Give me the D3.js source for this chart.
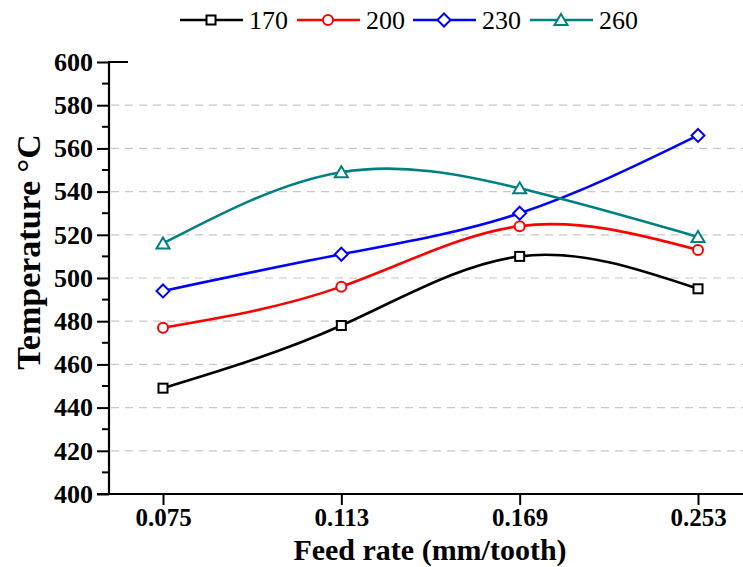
<!DOCTYPE html>
<html><head><meta charset="utf-8">
<script src="https://cdn.jsdelivr.net/npm/d3@7"></script>
<style>body{margin:0;background:#fff}svg{display:block}</style>
</head><body>
<svg id="c" width="743" height="567"></svg>
<script>
const categories = ["0.075", "0.113", "0.169", "0.253"];
const s170 = [449, 478, 510, 495];
const s200 = [477, 496, 524, 513];
const s230 = [494, 511, 530, 566];
const s260 = [516, 549, 541.5, 519];
const seriesNames = ["170", "200", "230", "260"];
const seriesColors = ["#000000", "#ff0000", "#0000ff", "#008080"];
const seriesMarkers = ["square", "circle", "diamond", "triangle"];
const yTicks = [400, 420, 440, 460, 480, 500, 520, 540, 560, 580, 600];
const yMinor = [410, 430, 450, 470, 490, 510, 530, 550, 570, 590];
const gridVals = [420, 440, 460, 480, 500, 520, 540, 560, 580];
const allSeries = [s170, s200, s230, s260];

const svg = d3.select("#c");
const x = d3.scalePoint().domain(categories).range([163, 698]);
const y = d3.scaleLinear().domain([400, 600]).range([494, 62]);
const axisX0 = 109, axisX1 = 743;
const serif = "'Liberation Serif', 'Times New Roman', serif";

// grid
svg.append("g").selectAll("line").data(gridVals).join("line")
  .attr("x1", axisX0 + 2).attr("x2", axisX1)
  .attr("y1", d => y(d)).attr("y2", d => y(d))
  .attr("stroke", "#c8c8c8").attr("stroke-width", 1.2).attr("stroke-dasharray", "8,6");

// y axis
const yAxis = d3.axisLeft(y).tickValues(yTicks).tickSize(12).tickPadding(4).tickFormat(d3.format("d"));
const gy = svg.append("g").attr("transform", `translate(${axisX0},0)`).call(yAxis);
gy.select(".domain").remove();
gy.selectAll(".tick line").attr("stroke", "#000").attr("stroke-width", 2);
gy.selectAll(".tick text").attr("font-family", serif).attr("font-weight", "bold").attr("font-size", 26).attr("fill", "#000");
gy.append("g").selectAll("line").data(yMinor).join("line")
  .attr("x1", -7).attr("x2", 0).attr("y1", d => y(d)).attr("y2", d => y(d))
  .attr("stroke", "#000").attr("stroke-width", 2);
svg.append("line").attr("x1", axisX0).attr("x2", axisX0).attr("y1", y(600) - 1).attr("y2", y(400) + 1)
  .attr("stroke", "#000").attr("stroke-width", 2.2);
svg.append("line").attr("x1", axisX0).attr("x2", 128).attr("y1", y(600)).attr("y2", y(600))
  .attr("stroke", "#000").attr("stroke-width", 2);

// x axis
const xAxis = d3.axisBottom(x).tickSize(11).tickPadding(3);
const gx = svg.append("g").attr("transform", `translate(0,${y(400)})`).call(xAxis);
gx.select(".domain").remove();
gx.selectAll(".tick line").attr("stroke", "#000").attr("stroke-width", 2);
gx.selectAll(".tick text").attr("font-family", serif).attr("font-weight", "bold").attr("font-size", 25).attr("fill", "#000");
svg.append("line").attr("x1", axisX0 - 12).attr("x2", axisX1).attr("y1", y(400)).attr("y2", y(400))
  .attr("stroke", "#000").attr("stroke-width", 2.2);

// titles
svg.append("text").attr("x", 430).attr("y", 560).attr("text-anchor", "middle")
  .attr("font-family", serif).attr("font-weight", "bold").attr("font-size", 30).text("Feed rate (mm/tooth)");
svg.append("text").attr("transform", "translate(40,252) rotate(-90)").attr("text-anchor", "middle")
  .attr("font-family", serif).attr("font-weight", "bold").attr("font-size", 34).text("Temperature °C");

function marker(g, type, color) {
  if (type === "square") g.append("rect").attr("x", -4.5).attr("y", -4.5).attr("width", 9).attr("height", 9);
  else if (type === "circle") g.append("circle").attr("r", 5);
  else if (type === "diamond") g.append("path").attr("d", "M0,-6.5L6.5,0L0,6.5L-6.5,0Z");
  else g.append("path").attr("d", "M0,-6L6.5,5L-6.5,5Z");
  g.selectAll("*").attr("fill", "#fff").attr("stroke", color).attr("stroke-width", 2);
}

const line = d3.line().x((d, i) => x(categories[i])).y(d => y(d)).curve(d3.curveNatural);
allSeries.forEach((vals, k) => {
  svg.append("path").attr("d", line(vals)).attr("fill", "none")
    .attr("stroke", seriesColors[k]).attr("stroke-width", 2.6);
});
allSeries.forEach((vals, k) => {
  vals.forEach((v, i) => {
    const g = svg.append("g").attr("transform", `translate(${x(categories[i])},${y(v)})`);
    marker(g, seriesMarkers[k], seriesColors[k]);
  });
});

// legend
const legX = [180, 297, 413, 530];
seriesNames.forEach((n, k) => {
  const g = svg.append("g").attr("transform", `translate(${legX[k]},20)`);
  g.append("line").attr("x1", 0).attr("x2", 63).attr("stroke", seriesColors[k]).attr("stroke-width", 2.6);
  const m = g.append("g").attr("transform", "translate(31,0)");
  marker(m, seriesMarkers[k], seriesColors[k]);
  g.append("text").attr("x", 69).attr("y", 9).attr("font-family", serif).attr("font-size", 26).text(n);
});
</script>
</body></html>
